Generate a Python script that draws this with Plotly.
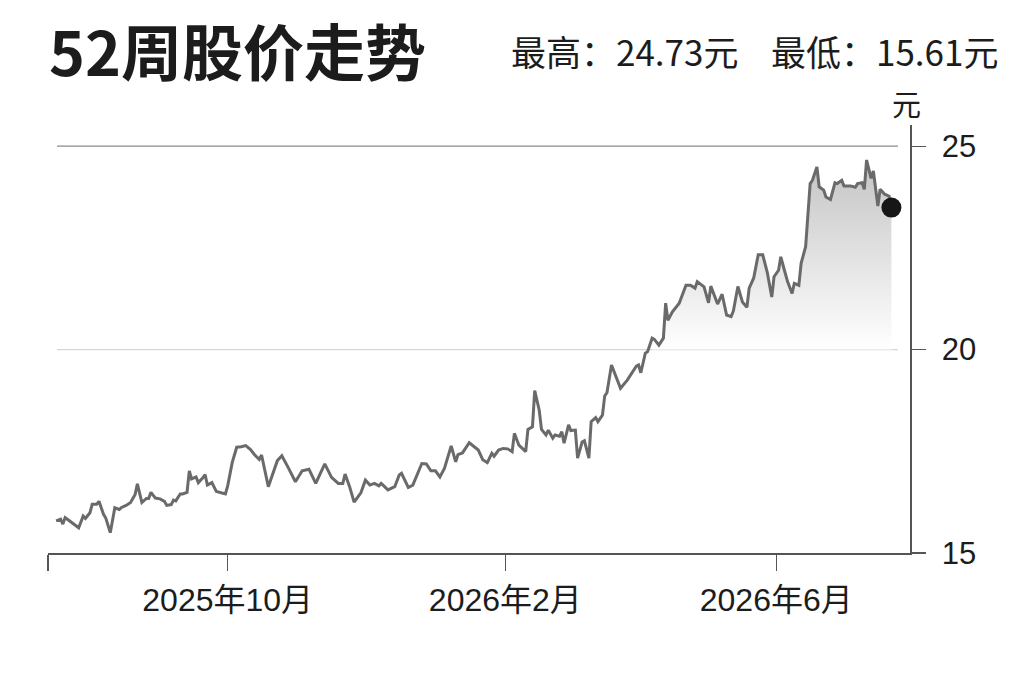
import plotly.graph_objects as go

dates = [
    "2025-07-17", "2025-07-19", "2025-07-20", "2025-07-21", "2025-07-22", "2025-07-24", "2025-07-26", "2025-07-27", "2025-07-29", "2025-07-30",
    "2025-08-01", "2025-08-02", "2025-08-04", "2025-08-05", "2025-08-07", "2025-08-08", "2025-08-10", "2025-08-12", "2025-08-14", "2025-08-15",
    "2025-08-17", "2025-08-19", "2025-08-21", "2025-08-22", "2025-08-24", "2025-08-26", "2025-08-27", "2025-08-28", "2025-08-30",
    "2025-09-01", "2025-09-03", "2025-09-04", "2025-09-06", "2025-09-07", "2025-09-08", "2025-09-10", "2025-09-11", "2025-09-13", "2025-09-14",
    "2025-09-15", "2025-09-17", "2025-09-18", "2025-09-20", "2025-09-21", "2025-09-22", "2025-09-24", "2025-09-26", "2025-09-28", "2025-09-30",
    "2025-10-01", "2025-10-03", "2025-10-05", "2025-10-07", "2025-10-09", "2025-10-11", "2025-10-13", "2025-10-15", "2025-10-16", "2025-10-19",
    "2025-10-23", "2025-10-25", "2025-10-28", "2025-10-31",
    "2025-11-03", "2025-11-06", "2025-11-09", "2025-11-13", "2025-11-16", "2025-11-19", "2025-11-21", "2025-11-22", "2025-11-24", "2025-11-26",
    "2025-11-29",
    "2025-12-01", "2025-12-03", "2025-12-05", "2025-12-07", "2025-12-08", "2025-12-11", "2025-12-14", "2025-12-16", "2025-12-17", "2025-12-20",
    "2025-12-22", "2025-12-26", "2025-12-28", "2025-12-30",
    "2026-01-01", "2026-01-03", "2026-01-05", "2026-01-08", "2026-01-10", "2026-01-11", "2026-01-13", "2026-01-16", "2026-01-18", "2026-01-20",
    "2026-01-22", "2026-01-24", "2026-01-26", "2026-01-27", "2026-01-29", "2026-01-31",
    "2026-02-02", "2026-02-04", "2026-02-05", "2026-02-07", "2026-02-10", "2026-02-11", "2026-02-13", "2026-02-14", "2026-02-16", "2026-02-17",
    "2026-02-19", "2026-02-20", "2026-02-22", "2026-02-23", "2026-02-25", "2026-02-26", "2026-02-27",
    "2026-03-01", "2026-03-02", "2026-03-04", "2026-03-05", "2026-03-07", "2026-03-08", "2026-03-10", "2026-03-11", "2026-03-13", "2026-03-14",
    "2026-03-16", "2026-03-17", "2026-03-18", "2026-03-20", "2026-03-22", "2026-03-24", "2026-03-27", "2026-03-29", "2026-03-31",
    "2026-04-01", "2026-04-02", "2026-04-04", "2026-04-05", "2026-04-07", "2026-04-08", "2026-04-10", "2026-04-12", "2026-04-13", "2026-04-14",
    "2026-04-16", "2026-04-18", "2026-04-19", "2026-04-22", "2026-04-24", "2026-04-26", "2026-04-27", "2026-04-30",
    "2026-05-02", "2026-05-03", "2026-05-06", "2026-05-08", "2026-05-10", "2026-05-12", "2026-05-13", "2026-05-15", "2026-05-17", "2026-05-19",
    "2026-05-20", "2026-05-22", "2026-05-24", "2026-05-26", "2026-05-28", "2026-05-30", "2026-05-31",
    "2026-06-02", "2026-06-03", "2026-06-05", "2026-06-06", "2026-06-08", "2026-06-09", "2026-06-11", "2026-06-12", "2026-06-14", "2026-06-15",
    "2026-06-16", "2026-06-17", "2026-06-19", "2026-06-20", "2026-06-22", "2026-06-23", "2026-06-25", "2026-06-27", "2026-06-28", "2026-06-30",
    "2026-07-01", "2026-07-03", "2026-07-04", "2026-07-06", "2026-07-07", "2026-07-09", "2026-07-10", "2026-07-11", "2026-07-13", "2026-07-14",
    "2026-07-16", "2026-07-17", "2026-07-19", "2026-07-21", "2026-07-22",
]

prices = [
    15.79, 15.83, 15.71, 15.87, 15.83, 15.74, 15.66, 15.62, 15.91, 15.85,
    15.99, 16.20, 16.20, 16.27, 15.95, 15.86, 15.50, 16.11, 16.07, 16.12,
    16.17, 16.24, 16.44, 16.70, 16.24, 16.34, 16.34, 16.49, 16.35,
    16.33, 16.27, 16.17, 16.19, 16.30, 16.28, 16.45, 16.45, 16.49, 17.02,
    16.82, 16.87, 16.73, 16.85, 16.93, 16.67, 16.73, 16.51, 16.47, 16.45,
    16.65, 17.22, 17.60, 17.61, 17.64, 17.55, 17.41, 17.30, 17.41, 16.63,
    17.27, 17.39, 17.08, 16.75,
    17.02, 17.06, 16.71, 17.19, 16.86, 16.71, 16.71, 16.94, 16.63, 16.25,
    16.48,
    16.79, 16.67, 16.71, 16.65, 16.71, 16.55, 16.63, 16.92, 16.96, 16.61,
    16.67, 17.20, 17.19, 17.02,
    17.02, 16.87, 17.08, 17.63, 17.24, 17.42, 17.46, 17.71, 17.61, 17.53,
    17.29, 17.22, 17.45, 17.38, 17.53, 17.57,
    17.56, 17.49, 17.94, 17.65, 17.49, 18.04, 18.10, 18.99, 18.51, 18.04,
    17.90, 18.02, 17.82, 17.90, 17.87, 17.98, 17.70,
    18.15, 18.01, 18.02, 17.33, 17.73, 17.76, 17.33, 18.23, 18.33, 18.23,
    18.39, 18.86, 18.94, 19.62, 19.32, 19.05, 19.25, 19.42, 19.59,
    19.62, 19.43, 19.91, 19.95, 20.28, 20.25, 20.11, 20.28, 21.14, 20.72,
    20.93, 21.07, 21.14, 21.58, 21.58, 21.51, 21.67, 21.54,
    21.15, 21.56, 21.12, 21.36, 20.85, 20.81, 20.95, 21.55, 21.17, 21.04,
    21.51, 21.76, 22.33, 22.33, 21.90, 21.29, 21.79,
    21.95, 22.28, 21.87, 21.67, 21.38, 21.63, 21.58, 22.12, 22.53, 23.26,
    24.08, 24.16, 24.49, 24.00, 23.92, 23.75, 23.69, 24.10, 24.08, 24.16,
    24.02, 24.02, 24.02, 23.99, 24.08, 24.10, 23.94, 24.66, 24.21, 24.39,
    23.53, 23.94, 23.82, 23.77, 23.49,
]

x_range = ["2025-07-13 09:53", "2026-07-30 05:31"]
tick_dates = ["2025-07-13 09:53", "2025-10-01", "2026-02-01", "2026-06-01"]
tick_labels = ["", "2025年10月", "2026年2月", "2026年6月"]
y_ticks = [15, 20, 25]
y_range = [15, 25.52]
grid_levels = [20, 25]
grid_colors = ["#d6d6d6", "#8a8a8a"]

title_text = "52周股价走势"
high_text = "最高：24.73元"
low_text = "最低：15.61元"
unit_text = "元"

# shaded region: the final stretch that stays above the 20 gridline
start = len(prices)
while start > 0 and prices[start - 1] > grid_levels[0]:
    start -= 1
fill_dates = dates[start:]
fill_prices = prices[start:]
base = [grid_levels[0]] * len(fill_dates)

LINE = "#6a6a6a"
AXIS = "#555555"
TEXT = "#1c1c1c"
LAT = "Liberation Sans, Arial, Noto Sans CJK SC, sans-serif"
CJK = "Noto Sans CJK SC, sans-serif"

fig = go.Figure()
fig.add_trace(go.Scatter(x=fill_dates, y=base, mode="lines", line=dict(width=0),
                         hoverinfo="skip", showlegend=False))
fig.add_trace(go.Scatter(x=fill_dates, y=fill_prices, mode="lines", line=dict(width=0),
                         fill="tonexty",
                         fillgradient=dict(type="vertical",
                                           colorscale=[[0, "rgba(255,255,255,1)"], [1, "rgba(196,196,196,1)"]],
                                           start=grid_levels[0], stop=max(fill_prices)),
                         hoverinfo="skip", showlegend=False))
fig.add_trace(go.Scatter(x=dates, y=prices, mode="lines",
                         line=dict(color=LINE, width=3), showlegend=False))
fig.add_trace(go.Scatter(x=[dates[-1]], y=[prices[-1]], mode="markers",
                         marker=dict(color="#161616", size=20), showlegend=False))

for lvl, col in zip(grid_levels, grid_colors):
    fig.add_shape(type="line", xref="paper", yref="y", x0=0.0105, x1=0.986, y0=lvl, y1=lvl,
                  line=dict(color=col, width=1.4), layer="below")

fig.add_annotation(text=title_text, xref="paper", yref="paper", x=0.0, y=1.177,
                   xanchor="left", yanchor="middle", showarrow=False, borderpad=0,
                   font=dict(family=CJK, size=61, color=TEXT, weight="bold"))
fig.add_annotation(text=high_text, xref="paper", yref="paper", x=0.535, y=1.175,
                   xanchor="left", yanchor="middle", showarrow=False,
                   font=dict(family=CJK, size=35, color=TEXT))
fig.add_annotation(text=low_text, xref="paper", yref="paper", x=0.836, y=1.175,
                   xanchor="left", yanchor="middle", showarrow=False,
                   font=dict(family=CJK, size=35, color=TEXT))
fig.add_annotation(text=unit_text, xref="paper", yref="paper", x=0.9965, y=1.052,
                   xanchor="center", yanchor="middle", showarrow=False,
                   font=dict(family=CJK, size=29, color=TEXT))

fig.update_layout(
    width=1023, height=682, autosize=False,
    margin=dict(l=48, r=113, t=125, b=129, pad=0),
    paper_bgcolor="white", plot_bgcolor="white",
    showlegend=False, hovermode=False,
    xaxis=dict(type="date", range=x_range, tickmode="array", tickvals=tick_dates, ticktext=tick_labels,
               showgrid=False, zeroline=False, showline=True, linecolor=AXIS, linewidth=1.5,
               ticks="outside", ticklen=16, tickwidth=1.3, tickcolor=AXIS,
               tickfont=dict(family=LAT, size=32, color=TEXT), ticklabelstandoff=2),
    yaxis=dict(range=y_range, side="right", tickmode="array", tickvals=y_ticks,
               showgrid=False, zeroline=False, showline=True, linecolor=AXIS, linewidth=1.5,
               ticks="outside", ticklen=14, tickwidth=1.3, tickcolor=AXIS,
               tickfont=dict(family=LAT, size=31, color=TEXT), ticklabelstandoff=10),
)

# remove the page's default body margin so the figure fills the window exactly
fig.write_html("out.html", config={"displayModeBar": False, "staticPlot": True},
               post_script="document.body.style.margin='0';")
